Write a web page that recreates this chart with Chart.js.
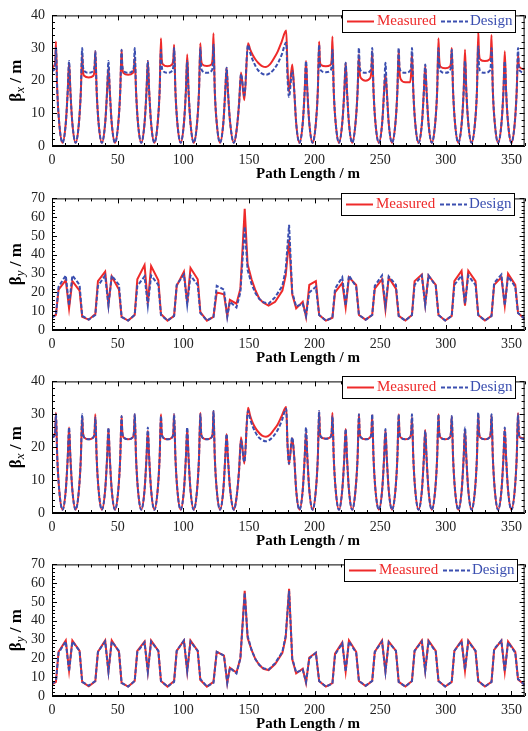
<!DOCTYPE html>
<html>
<head>
<meta charset="utf-8">
<script src="https://cdn.jsdelivr.net/npm/chart.js@4/dist/chart.umd.min.js"></script>
<style>
  body { margin: 0; background: #fff; }
  canvas { display: block; }
</style>
</head>
<body>
<div id="wrap"></div>
<script>
// path length samples for the beta-x curves (m)
var sx = [
  0, 1.5, 2.5, 3, 4, 5.5, 8, 10.5, 12, 13, 14, 15.5, 18, 20.5, 22,
  23, 23.5, 24.5, 28, 31.5, 32.5, 33, 34, 35.5, 38, 40.5, 42, 43, 44, 45.5, 48, 50.5, 52,
  53, 53.5, 54.5, 58, 61.5, 62.5, 63, 64, 65.5, 68, 70.5, 72, 73, 74, 75.5, 78, 80.5, 82,
  83, 83.5, 84.5, 88, 91.5, 92.5, 93, 94, 95.5, 98, 100.5, 102, 103, 104, 105.5, 108, 110.5, 112,
  113, 113.5, 114.5, 118, 121.5, 122.5, 123, 124, 125.5, 128, 130.5, 132, 133, 134, 135.5, 138.5,
  140.5, 142.5, 144, 146.5, 149.3, 151, 153, 155, 157, 160, 163, 166, 169, 172, 175, 178.4, 179.4, 180.5, 183,
  184.5, 186, 188.5, 191, 192.5, 193.5, 194.5, 196, 198.5, 201, 202.5,
  203.5, 204, 205, 208.6, 212.1, 213.1, 213.6, 214.6, 216.1, 218.6, 221.1, 222.7, 223.7, 224.7, 226.2, 228.7, 231.2, 232.8,
  233.8, 234.3, 235.3, 238.9, 242.4, 243.4, 243.9, 244.9, 246.4, 249, 251.5, 253, 254, 255, 256.5, 259, 261.6, 263.1,
  264.1, 264.6, 265.6, 269.2, 272.7, 273.7, 274.2, 275.2, 276.7, 279.2, 281.8, 283.3, 284.3, 285.3, 286.8, 289.3, 291.9, 293.4,
  294.4, 294.9, 295.9, 299.5, 303, 304, 304.5, 305.5, 307, 309.5, 312.1, 313.6, 314.6, 315.6, 317.1, 319.6, 322.2, 323.7,
  324.7, 325.2, 326.2, 329.8, 333.3, 334.3, 334.8, 335.8, 337.3, 339.8, 342.4, 343.9, 344.9, 345.9, 347.4, 349.9, 352.5, 354,
  355, 355.5, 356.5, 360
];
var bxDesign = [
  23, 23.3, 25, 30, 17, 7, 1, 7, 17, 26, 17, 7, 1, 7, 17,
  30, 25, 23, 22.4, 23, 25, 29, 17, 7, 1, 7, 17, 26, 17, 7, 1, 7, 17,
  29.5, 25, 23, 22.4, 23, 25, 30, 17, 7, 1, 7, 17, 26, 17, 7, 1, 7, 17,
  29.5, 25, 23, 22.4, 23, 25, 30, 17, 7, 1, 7, 17, 26, 17, 7, 1, 7, 17,
  30, 25, 23, 22.4, 23, 25, 31, 17, 7, 1, 7, 17, 24, 17, 8, 1,
  4.5, 13, 22, 15.5, 31, 28.5, 26.2, 24.5, 23.2, 22.2, 21.8, 22.3, 23.5, 25.3, 28, 31.7, 21, 15, 23,
  17, 7, 1, 7, 17, 26, 17, 7, 1, 7, 17,
  31, 25, 23.1, 22.6, 23.1, 25, 29.5, 17, 7, 1, 7, 17, 25.5, 17, 7, 1, 7, 17,
  30, 25, 23, 22.4, 23, 25, 30, 17, 7, 1, 7, 17, 25.5, 17, 7, 1, 7, 17,
  30, 25, 23, 22.4, 23, 25, 30, 17, 7, 1, 7, 17, 25, 17, 7, 1, 7, 17,
  30, 25, 23, 22.4, 23, 25, 29.5, 17, 7, 1, 7, 17, 26, 17, 7, 1, 7, 17,
  30.5, 25, 23, 22.4, 23, 25, 30, 17, 7, 1, 7, 17, 26, 17, 7, 1, 7, 17,
  30, 25, 23, 22.5
];
// before correction
var bxMeasured1 = [
  24, 24.5, 26, 32, 17, 7, 1, 7, 17, 25.5, 17, 7, 1, 7, 17,
  28, 23.5, 21.5, 21, 21.5, 24, 29, 17, 7, 1, 7, 17, 24, 17, 7, 1, 7, 17,
  29.5, 24.5, 22.3, 21.8, 22.3, 24, 27, 17, 7, 1, 7, 17, 26, 17, 7, 1, 7, 17,
  33, 27, 25, 24.4, 25, 27, 31, 17, 7, 1, 7, 17, 28, 17, 7, 1, 7, 17,
  31.5, 27, 25, 24.5, 25, 28, 34.5, 17, 7, 1, 7, 17, 24, 17, 8, 1,
  4.5, 13, 22.5, 14, 31.5, 29.5, 27.8, 26.5, 25.5, 24.5, 24.2, 25, 26.8, 29, 32, 35.4, 24, 16.6, 25,
  17, 7, 1, 7, 17, 26, 17, 7, 1, 7, 17,
  32, 26.5, 24.8, 24.4, 24.8, 27, 33.5, 17, 7, 1, 7, 17, 25.5, 17, 7, 1, 7, 17,
  28, 23, 20.8, 20, 20.8, 23.5, 29, 17, 7, 1, 7, 17, 22, 17, 7, 1, 7, 17,
  29.5, 23.5, 20.5, 19.5, 19.5, 23, 28.5, 17, 7, 1, 7, 17, 24.5, 17, 7, 1, 7, 17,
  33, 27, 24.3, 23.8, 24.3, 26, 30, 17, 7, 1, 7, 17, 29.5, 17, 7, 1, 7, 17,
  35, 29, 26.5, 26, 26.5, 28.5, 34, 17, 7, 1, 7, 17, 29, 17, 7, 1, 7, 17,
  28, 25, 24, 23.5
];
// after correction
var bxMeasured2 = [
  23, 23.3, 25.5, 30.5, 17, 7, 1, 7, 17, 26, 17, 7, 1, 7, 17,
  29.5, 25, 23, 22.4, 23, 25, 30, 17, 7, 1, 7, 17, 25.5, 17, 7, 1, 7, 17,
  29.5, 25, 23, 22.4, 23, 25, 30, 17, 7, 1, 7, 17, 25, 17, 7, 1, 7, 17,
  30, 25, 23, 22.4, 23, 25, 30, 17, 7, 1, 7, 17, 25.5, 17, 7, 1, 7, 17,
  30.5, 25, 23, 22.4, 23, 25, 31, 17, 7, 1, 7, 17, 24, 17, 8, 1,
  4.5, 13, 23, 15, 32, 29.5, 27.3, 25.8, 24.7, 23.5, 23.2, 23.8, 25.3, 27, 29.5, 32.2, 21, 14.8, 22.7,
  17, 7, 1, 7, 17, 24.5, 17, 7, 1, 7, 17,
  30.7, 25, 23, 22.6, 23, 25, 30.5, 17, 7, 1, 7, 17, 25.5, 17, 7, 1, 7, 17,
  30, 25, 23, 22.4, 23, 25, 29.7, 17, 7, 1, 7, 17, 25.2, 17, 7, 1, 7, 17,
  30, 25, 23, 22.4, 23, 25, 29, 17, 7, 1, 7, 17, 25.2, 17, 7, 1, 7, 17,
  30, 25, 23, 22.4, 23, 25, 29.3, 17, 7, 1, 7, 17, 25.4, 17, 7, 1, 7, 17,
  30.2, 25, 23, 22.4, 23, 25, 29.7, 17, 7, 1, 7, 17, 25.5, 17, 7, 1, 7, 17,
  30.4, 25, 23, 22.7
];

// path length samples for the beta-y curves (m)
var sy = [
  0, 3, 5, 10.5, 13, 15.5, 21, 23, 28,
  33, 35, 40.5, 43, 45.5, 51, 53, 58,
  63, 65, 70.5, 73, 75.5, 81, 83, 88,
  93, 95, 100.5, 103, 105.5, 111, 113, 118,
  123, 125.5, 131, 133.5, 135.5, 140.5, 143.5, 146.8, 149, 152, 155, 158, 161, 165, 170, 175.5, 178, 180.6, 183, 186, 191, 193.5, 196, 201,
  203.5, 208.6, 213.6, 215.6, 221.1, 223.7, 226.2, 231.7,
  233.8, 238.9, 243.9, 245.9, 251.4, 254, 256.5, 262,
  264.1, 269.2, 274.2, 276.2, 281.7, 284.3, 286.8, 292.3,
  294.4, 299.5, 304.5, 306.5, 312, 314.6, 317.1, 322.6,
  324.7, 329.8, 334.8, 336.8, 342.3, 344.9, 347.4, 352.9,
  355, 360
];
var byDesign = [
  6.5, 8, 23, 29, 13, 29, 24, 7.5, 5.5,
  8, 23.5, 29, 13, 29, 24, 7, 5,
  8, 23.5, 28.5, 13, 29, 24, 8, 5,
  7.5, 24, 29.5, 13.5, 29, 24, 9, 5,
  7, 23.5, 21.5, 7, 15, 12, 20, 55, 32, 24.5, 19.5, 16.5, 14.8, 14, 17.5, 23.5, 32, 56, 20, 12.5, 14, 7.5, 20, 23,
  8, 5, 6.5, 22, 28, 13, 29, 23,
  8, 5.5, 8, 23.5, 29, 13, 28.5, 24,
  7.5, 5, 8, 24, 29, 13.5, 29, 23.5,
  8, 5, 7.5, 24, 29, 14, 29, 24,
  8, 5, 7.5, 25, 29.5, 13, 28.5, 23,
  9, 6
];
var byMeasured1 = [
  7, 8, 21.5, 26.5, 11.5, 26, 21, 7, 5.5,
  8.5, 26, 31, 13.5, 28.5, 21.5, 7, 5,
  8, 27, 34.5, 14, 34, 26.5, 8.5, 5,
  7.5, 23.5, 31, 14, 33, 27, 9.5, 5,
  7, 20, 19, 7.5, 16, 14, 22, 64.5, 35, 27, 21, 16.5, 14.5, 13, 15, 21, 29, 48, 19, 11.5, 15, 7, 24, 26,
  8, 5, 6.5, 20, 25, 12, 28, 24,
  8, 5.5, 8, 22, 27, 11, 28, 22,
  7.5, 5, 8, 26, 29.5, 13.5, 29, 24,
  8, 5, 7.5, 26, 31.5, 13, 31.5, 26,
  8, 5, 7.5, 24, 28, 13, 30, 24,
  9, 6
];
var byMeasured2 = [
  6.2, 7.5, 23.5, 29.5, 13.5, 29.5, 24, 7.5, 5.2,
  7.8, 23.5, 29.5, 13, 29.5, 23.5, 7, 5,
  8, 24, 29, 13, 29.5, 24, 8, 5,
  8, 24, 29.5, 13, 29.5, 24, 8.5, 5,
  7.5, 23.5, 21.5, 7, 15, 12.5, 20, 56, 31, 24.5, 19.5, 16.5, 14.5, 13.8, 17, 23, 31, 57, 19.5, 12, 14.5, 7, 20.5, 23,
  7.8, 5, 6.8, 22.5, 28.5, 13, 29.5, 23.5,
  8, 5.3, 8, 23.5, 29.5, 13, 29, 24,
  7.5, 5, 8, 24, 29.5, 13.5, 29.5, 24,
  8, 5, 7.5, 24, 29.5, 13.5, 29.5, 24,
  8, 5, 7.5, 24.5, 29.5, 13, 29, 23.5,
  8.8, 6
];

var RED = "#ee2a2a";
var BLUE = "#3b4fb0";
var SERIF = '"Liberation Serif", "Times New Roman", serif';

var panels = [
  { xs: sx, design: bxDesign, measured: bxMeasured1, yMax: 40, sub: "x", h: 183, top: 13, bottom: 37, smooth: true, legendX: 342 },
  { xs: sy, design: byDesign, measured: byMeasured1, yMax: 70, sub: "y", h: 183, top: 14, bottom: 36, smooth: false, legendX: 341 },
  { xs: sx, design: bxDesign, measured: bxMeasured2, yMax: 40, sub: "x", h: 183, top: 13, bottom: 36, smooth: true, legendX: 342 },
  { xs: sy, design: byDesign, measured: byMeasured2, yMax: 70, sub: "y", h: 182, top: 14, bottom: 35, smooth: false, legendX: 344 }
];

// box, inward ticks, axis titles and legend
var framePlugin = {
    id: "frame",
    afterDraw: function(chart, args, opts) {
        var ctx = chart.ctx, a = chart.chartArea;
        var x = chart.scales.x, y = chart.scales.y;
        ctx.save();
        ctx.strokeStyle = "#000";
        ctx.lineWidth = 1;
        ctx.strokeRect(a.left + 0.5, a.top + 0.5, a.right - a.left - 1, a.bottom - a.top - 1);
        ctx.beginPath();
        for (var v = 0; v <= x.max; v += 10) {
            var px = Math.round(x.getPixelForValue(v)) + 0.5;
            var len = v % 50 === 0 ? 5 : 3;
            ctx.moveTo(px, a.bottom); ctx.lineTo(px, a.bottom - len);
            ctx.moveTo(px, a.top); ctx.lineTo(px, a.top + len);
        }
        for (var w = 0; w <= y.max; w += 2) {
            var py = Math.round(y.getPixelForValue(w)) + 0.5;
            var l2 = w % 10 === 0 ? 5 : 3;
            ctx.moveTo(a.left, py); ctx.lineTo(a.left + l2, py);
            ctx.moveTo(a.right, py); ctx.lineTo(a.right - l2, py);
        }
        ctx.stroke();

        // x title
        ctx.fillStyle = "#000";
        ctx.font = "bold 15px " + SERIF;
        ctx.textAlign = "center";
        ctx.textBaseline = "middle";
        ctx.fillText("Path Length / m", 308, a.bottom + 28);

        // y title with subscript
        ctx.save();
        ctx.translate(15, (a.top + a.bottom) / 2);
        ctx.rotate(-Math.PI / 2);
        var fb = "bold 17px " + SERIF, fs = "italic 13px " + SERIF;
        ctx.font = fb;
        var w1 = ctx.measureText("\u03b2").width, w3 = ctx.measureText(" / m").width;
        ctx.font = fs;
        var w2 = ctx.measureText(opts.sub).width;
        var s = -(w1 + w2 + w3) / 2;
        ctx.textAlign = "left";
        ctx.textBaseline = "alphabetic";
        ctx.font = fb; ctx.fillText("\u03b2", s, 6); s += w1;
        ctx.font = fs; ctx.fillText(opts.sub, s, 9); s += w2;
        ctx.font = fb; ctx.fillText(" / m", s, 6);
        ctx.restore();

        // legend
        var lx = opts.legendX, ly = 10, lw = 173, lh = 22, my = ly + lh / 2 + 0.5;
        var ds = chart.data.datasets;
        ctx.fillStyle = "#fff";
        ctx.fillRect(lx, ly, lw, lh);
        ctx.strokeStyle = "#000";
        ctx.lineWidth = 1;
        ctx.strokeRect(lx + 0.5, ly + 0.5, lw, lh);
        ctx.lineWidth = 2;
        ctx.strokeStyle = RED;
        ctx.beginPath(); ctx.moveTo(lx + 5, my); ctx.lineTo(lx + 32, my); ctx.stroke();
        ctx.strokeStyle = BLUE;
        ctx.setLineDash([4, 2]);
        ctx.beginPath(); ctx.moveTo(lx + 99, my); ctx.lineTo(lx + 126, my); ctx.stroke();
        ctx.setLineDash([]);
        ctx.font = "15px " + SERIF;
        ctx.textAlign = "left";
        ctx.textBaseline = "middle";
        ctx.fillStyle = RED;
        ctx.fillText(ds[1].label, lx + 35, my);
        ctx.fillStyle = BLUE;
        ctx.fillText(ds[0].label, lx + 128, my);
        ctx.restore();
    }
};

function pts(xs, ys) {
    return xs.map(function(x, i) { return { x: x, y: ys[i] }; });
}

function make_panel(p, idx) {
    var c = document.createElement("canvas");
    c.width = 528;
    c.height = p.h;
    c.style.width = "528px";
    c.style.height = p.h + "px";
    document.getElementById("wrap").appendChild(c);
    var interp = p.smooth ? "monotone" : "default";
    new Chart(c.getContext("2d"), {
        type: "line",
        data: {
            datasets: [{
                label: "Design",
                data: pts(p.xs, p.design),
                borderColor: BLUE,
                borderWidth: 2,
                borderDash: [4, 2],
                pointRadius: 0,
                tension: 0,
                cubicInterpolationMode: interp,
                order: 0
            }, {
                label: "Measured",
                data: pts(p.xs, p.measured),
                borderColor: RED,
                borderWidth: 2,
                pointRadius: 0,
                tension: 0,
                cubicInterpolationMode: interp,
                order: 1
            }]
        },
        options: {
            responsive: false,
            animation: false,
            devicePixelRatio: 1,
            events: [],
            layout: { padding: { top: p.top, right: 1, left: 0, bottom: 0 } },
            plugins: {
                legend: { display: false },
                tooltip: { enabled: false },
                frame: { sub: p.sub, legendX: p.legendX }
            },
            scales: {
                x: {
                    type: "linear",
                    min: 0,
                    max: 360,
                    grid: { display: false, drawTicks: false },
                    border: { display: true, color: "#000", width: 1 },
                    ticks: { stepSize: 50, includeBounds: false, autoSkip: false, maxRotation: 0, padding: 6, color: "#222", font: { family: SERIF, size: 14 } },
                    afterFit: function(s) { s.height = p.bottom; }
                },
                y: {
                    min: 0,
                    max: p.yMax,
                    grid: { display: false, drawTicks: false },
                    border: { display: true, color: "#000", width: 1 },
                    ticks: { stepSize: 10, autoSkip: false, padding: 7, color: "#222", font: { family: SERIF, size: 14 } },
                    afterFit: function(s) { s.width = 52; }
                }
            }
        },
        plugins: [framePlugin]
    });
}

panels.forEach(make_panel);
</script>
</body>
</html>
